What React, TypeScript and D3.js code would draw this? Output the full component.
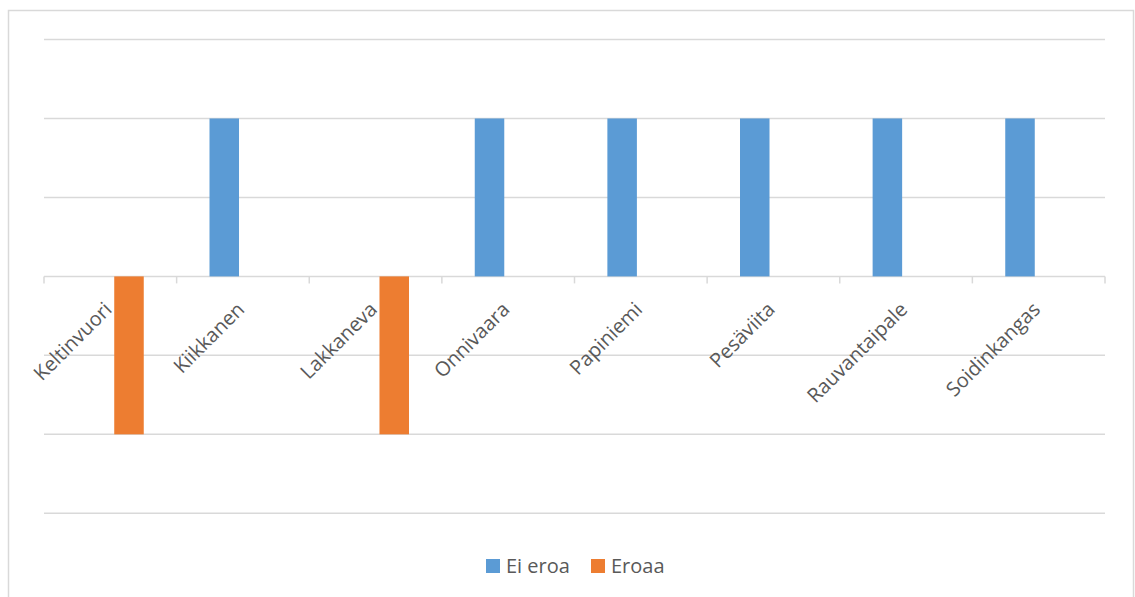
import React, { useRef, useEffect } from "react";
import * as d3 from "d3";

// chart data
const categories = [
  "Keltinvuori",
  "Kiikkanen",
  "Lakkaneva",
  "Onnivaara",
  "Papiniemi",
  "Pesäviita",
  "Rauvantaipale",
  "Soidinkangas",
];
const seriesNames = ["Ei eroa", "Eroaa"];
const eiEroa = [0, 2, 0, 2, 2, 2, 2, 2];
const eroaa = [-2, 0, -2, 0, 0, 0, 0, 0];
const yTicks = [-3, -2, -1, 0, 1, 2, 3];
const colors = ["#5b9bd5", "#ed7d31"];

const W = 1135;
const H = 597;
const FONT = "'Open Sans', sans-serif";

const Chart: React.FC = () => {
  const ref = useRef<SVGSVGElement | null>(null);

  useEffect(() => {
    const svg = d3.select(ref.current);
    svg.selectAll("*").remove();

    const left = 44;
    const right = 1105;
    const top = 39.5;
    const bottom = 513.3;

    const x = d3.scaleBand<string>().domain(categories).range([left, right]).padding(0);
    const xInner = d3
      .scaleBand<string>()
      .domain(seriesNames)
      .range([0, x.bandwidth()])
      .paddingInner(0.21)
      .paddingOuter(0.88);
    const y = d3.scaleLinear().domain([-3, 3]).range([bottom, top]);

    // outer chart border
    svg
      .append("rect")
      .attr("x", 8.5)
      .attr("y", 10.5)
      .attr("width", 1125)
      .attr("height", 620)
      .attr("fill", "#fff")
      .attr("stroke", "#d9d9d9")
      .attr("stroke-width", 1.5);

    // gridlines
    svg
      .append("g")
      .selectAll("line")
      .data(yTicks)
      .enter()
      .append("line")
      .attr("x1", left)
      .attr("x2", right)
      .attr("y1", (d) => y(d))
      .attr("y2", (d) => y(d))
      .attr("stroke", "#d9d9d9")
      .attr("stroke-width", 1.5);

    // category tick marks on zero line
    const bounds = categories.map((c) => x(c)!).concat([right]);
    svg
      .append("g")
      .selectAll("line")
      .data(bounds)
      .enter()
      .append("line")
      .attr("x1", (d) => d)
      .attr("x2", (d) => d)
      .attr("y1", y(0))
      .attr("y2", y(0) + 7)
      .attr("stroke", "#d9d9d9")
      .attr("stroke-width", 1.5);

    // bars
    const rows = categories.map((c, i) => ({ cat: c, vals: [eiEroa[i], eroaa[i]] }));
    const groups = svg
      .append("g")
      .selectAll("g")
      .data(rows)
      .enter()
      .append("g")
      .attr("transform", (d) => `translate(${x(d.cat)},0)`);

    groups
      .selectAll("rect")
      .data((d) => d.vals.map((v, k) => ({ name: seriesNames[k], v, k })))
      .enter()
      .append("rect")
      .filter((d) => d.v !== 0)
      .attr("x", (d) => xInner(d.name)!)
      .attr("width", xInner.bandwidth())
      .attr("y", (d) => y(Math.max(0, d.v)))
      .attr("height", (d) => Math.abs(y(d.v) - y(0)))
      .attr("fill", (d) => colors[d.k]);

    // rotated category labels
    svg
      .append("g")
      .selectAll("text")
      .data(categories)
      .enter()
      .append("text")
      .attr("transform", (d) => `translate(${x(d)! + x.bandwidth() / 2 - 8},300) rotate(-45)`)
      .attr("text-anchor", "end")
      .attr("dy", "0.76em")
      .attr("font-family", FONT)
      .attr("font-size", 20)
      .attr("fill", "#595959")
      .text((d) => d);

    // legend
    const legendX = [486, 591];
    const legend = svg
      .append("g")
      .selectAll("g")
      .data(seriesNames)
      .enter()
      .append("g")
      .attr("transform", (d, i) => `translate(${legendX[i]},559)`);
    legend
      .append("rect")
      .attr("width", 14)
      .attr("height", 14)
      .attr("fill", (d, i) => colors[i]);
    legend
      .append("text")
      .attr("x", 20)
      .attr("y", 14)
      .attr("font-family", FONT)
      .attr("font-size", 20)
      .attr("fill", "#595959")
      .text((d) => d);
  }, []);

  return <svg ref={ref} width={W} height={H} style={{ display: "block" }} />;
};

export default function App() {
  return (
    <div style={{ position: "fixed", left: 0, top: 0, width: W, height: H, background: "#fff" }}>
      <Chart />
    </div>
  );
}
